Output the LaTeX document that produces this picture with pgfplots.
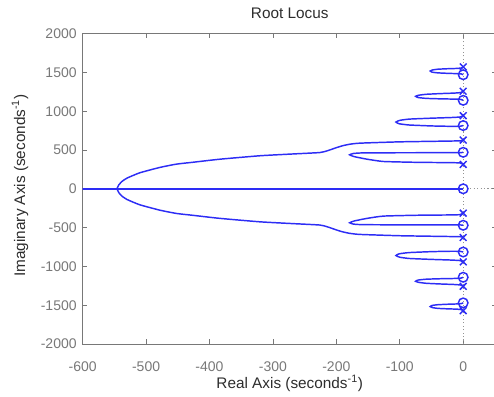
\documentclass[border=0pt]{standalone}
\usepackage{pgfplots}
\pgfplotsset{compat=1.18}
\usepackage{pgfplotstable}
\usepackage{fontspec}
\setmainfont{Liberation Sans}
\definecolor{locus}{RGB}{45,45,245}
\definecolor{axgray}{RGB}{120,120,120}
\definecolor{labgray}{RGB}{45,45,45}

\pgfplotstableread{
x y
0 1571
-3 1557
-10 1551
-25 1547
-40 1541
-48 1532
-52 1518
-49 1503
-40 1494
-25 1488
-10 1484
-3 1480
0 1470
}\loopA
\pgfplotstableread{
x y
0 1257
-4 1240
-15 1233
-35 1227
-58 1218
-70 1206
-75 1192
-71 1176
-58 1165
-35 1159
-15 1156
-4 1152
0 1140
}\loopB
\pgfplotstableread{
x y
0 942
-5 925
-20 918
-50 910
-85 898
-100 882
-106 860
-101 838
-85 822
-50 810
-20 805
-5 806
0 815
}\loopC
\pgfplotstableread{
x y
0 470
-5 466
-50 465
-120 464
-160 462
-173 455
-179 438
-172 415
-152 382
-126 352
-73 341
-20 337
-5 333
0 314
}\loopD
\pgfplotstableread{
x y
0 628
-4 618
-30 614
-100 605
-163 588
-179 574
-190 555
-200 530
-208 507
-215 488
-226 467
-268 449
-320 426
-384 381
-426 342
-452 318
-478 276
-510 206
-530 138
-538 95
-543 50
-546 0
}\branchE
\pgfplotstableread{
x y
0 1571
0 1257
0 942
0 628
0 314
}\poles
\pgfplotstableread{
x y
0 1470
0 1140
0 815
0 470
}\zeros

\pgfplotsset{
  branch/.style={locus, line width=1.1pt, smooth, tension=0.3},
  pole/.style={only marks, locus, mark=x, mark size=3.6pt, mark options={line width=1.1pt}},
  zero/.style={only marks, locus, mark=o, mark size=3.6pt, mark options={line width=1.1pt}},
}

\begin{document}
\begin{tikzpicture}
\begin{axis}[
  name=ax,
  scale only axis,
  width=310.6pt, height=232.8pt,
  xmin=-600, xmax=53, ymin=-2000, ymax=2000,
  xtick={-600,-500,...,0}, ytick={-2000,-1500,...,2000},
  /pgf/number format/assume math mode=true,
  /pgf/number format/1000 sep={},
  tick label style={font=\fontsize{10.5}{12}\selectfont, text=axgray},
  xticklabel style={yshift=-9.5pt},
  yticklabel style={xshift=-1pt},
  axis line style={axgray, line width=0.6pt},
  major tick style={axgray, line width=0.6pt},
  major tick length=3.5pt,
  tick align=inside,
  every axis title shift=0pt,
  title={Root Locus},
  title style={font=\fontsize{11.5}{13}\selectfont, text=labgray, at={(axis description cs:0.5,1)}, anchor=center, yshift=15.5pt},
  xlabel={Real Axis (seconds\textsuperscript{-1})},
  ylabel={Imaginary Axis (seconds\textsuperscript{-1})},
  label style={font=\fontsize{11.5}{13}\selectfont, text=labgray},
  xlabel style={at={(axis description cs:0.5,0)}, anchor=center, yshift=-29.5pt},
  ylabel style={at={(axis description cs:0,0.5)}, anchor=center, yshift=47pt, xshift=2.5pt},
  clip=true,
]
% dotted reference lines
\addplot[axgray!80, line width=0.8pt, dash pattern=on 0.8pt off 1.8pt] coordinates {(0,-2000) (0,2000)};
\addplot[axgray!80, line width=0.8pt, dash pattern=on 0.8pt off 1.8pt] coordinates {(0,0) (60,0)};
% real axis locus
\addplot[locus, line width=1.1pt] coordinates {(-620,0) (0,0)};
% branches, upper and lower halves
\addplot[branch] table[x=x,y=y] {\loopA};
\addplot[branch] table[x=x,y expr=-\thisrow{y}] {\loopA};
\addplot[branch] table[x=x,y=y] {\loopB};
\addplot[branch] table[x=x,y expr=-\thisrow{y}] {\loopB};
\addplot[branch] table[x=x,y=y] {\loopC};
\addplot[branch] table[x=x,y expr=-\thisrow{y}] {\loopC};
\addplot[branch] table[x=x,y=y] {\loopD};
\addplot[branch] table[x=x,y expr=-\thisrow{y}] {\loopD};
\addplot[branch] table[x=x,y=y] {\branchE};
\addplot[branch] table[x=x,y expr=-\thisrow{y}] {\branchE};
% poles and zeros
\addplot[pole] table[x=x,y=y] {\poles};
\addplot[pole] table[x=x,y expr=-\thisrow{y}] {\poles};
\addplot[zero] table[x=x,y=y] {\zeros};
\addplot[zero] table[x=x,y expr=-\thisrow{y}] {\zeros};
\addplot[zero] coordinates {(0,0)};
\end{axis}
\pgfresetboundingbox
\path[use as bounding box] ([shift={(-62pt,-39.75pt)}]ax.south west) rectangle ([shift={(308.5pt,25.2pt)}]ax.north west);
\end{tikzpicture}
\end{document}
